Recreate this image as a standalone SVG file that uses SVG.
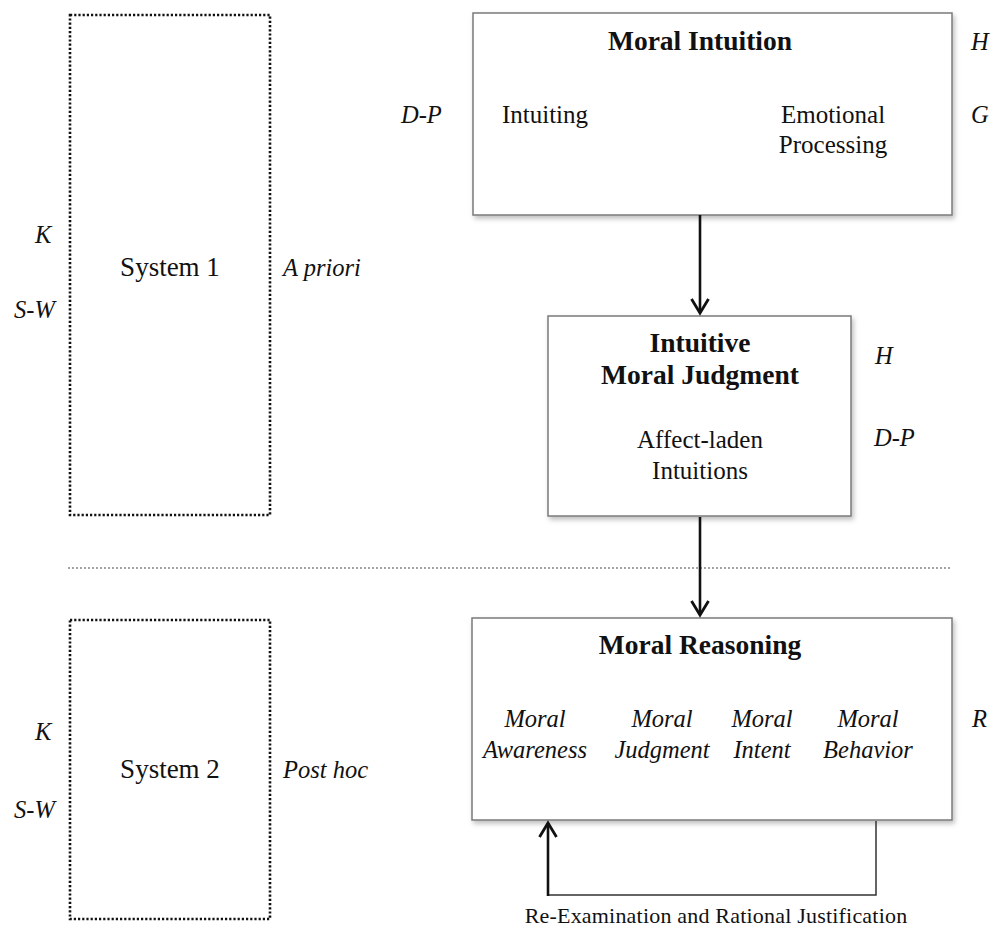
<svg xmlns="http://www.w3.org/2000/svg" width="998" height="929" viewBox="0 0 998 929">
<style>
  text { font-family: "Liberation Serif", "Times New Roman", serif; fill: #111; }
  .title { font-size: 27.5px; font-weight: bold; text-anchor: middle; }
  .body { font-size: 25px; text-anchor: middle; }
  .ital { font-size: 24.5px; font-style: italic; }
  .itc { font-size: 24.5px; font-style: italic; text-anchor: middle; }
  .sys { font-size: 27px; text-anchor: middle; }
  .box { fill: #fff; stroke: #7a7a7a; stroke-width: 1.5; filter: url(#shadow); }
  .dot { fill: none; stroke: #111; stroke-width: 2.6; stroke-dasharray: 2.2 2; }
  .arrow { fill: none; stroke: #111; stroke-width: 2.6; }
  .thin { fill: none; stroke: #333; stroke-width: 1.5; }
</style>
<defs>
  <filter id="shadow" x="-5%" y="-5%" width="115%" height="120%">
    <feDropShadow dx="2" dy="3" stdDeviation="2.5" flood-color="#000" flood-opacity="0.25"/>
  </filter>
  <marker id="chev" markerUnits="userSpaceOnUse" markerWidth="24" markerHeight="24" viewBox="-18 -12 24 24" refX="0" refY="0" orient="auto">
    <path d="M-14,-8.5 L0,0 L-14,8.5" fill="none" stroke="#111" stroke-width="2.8"/>
  </marker>
</defs>

<rect width="998" height="929" fill="#fff"/>

<!-- separator -->
<line x1="68" y1="568" x2="952" y2="568" stroke="#888" stroke-width="1.5" stroke-dasharray="2 2"/>

<g id="system1">
  <rect class="dot" x="70" y="15" width="200" height="500"/>
  <text class="sys" x="170" y="276">System 1</text>
  <text class="ital" x="35" y="243">K</text>
  <text class="ital" x="14" y="318">S-W</text>
  <text class="ital" x="283" y="276">A priori</text>
</g>

<g id="system2">
  <rect class="dot" x="70" y="620" width="200" height="299"/>
  <text class="sys" x="170" y="778">System 2</text>
  <text class="ital" x="35" y="740">K</text>
  <text class="ital" x="14" y="818">S-W</text>
  <text class="ital" x="283" y="778">Post hoc</text>
</g>

<g id="moral-intuition">
  <rect class="box" x="473" y="13" width="479" height="202"/>
  <text class="title" x="700" y="50">Moral Intuition</text>
  <text class="body" x="545" y="123">Intuiting</text>
  <text class="body" x="833" y="123">Emotional</text>
  <text class="body" x="833" y="153">Processing</text>
  <text class="ital" x="971" y="50">H</text>
  <text class="ital" x="971" y="123">G</text>
  <text class="ital" x="401" y="123">D-P</text>
</g>

<g id="intuitive-judgment">
  <rect class="box" x="548" y="316" width="303" height="200"/>
  <text class="title" x="700" y="352">Intuitive</text>
  <text class="title" x="700" y="384">Moral Judgment</text>
  <text class="body" x="700" y="448">Affect-laden</text>
  <text class="body" x="700" y="479">Intuitions</text>
  <text class="ital" x="875" y="364">H</text>
  <text class="ital" x="874" y="446">D-P</text>
</g>

<g id="moral-reasoning">
  <rect class="box" x="472" y="618" width="480" height="202"/>
  <text class="title" x="700" y="654">Moral Reasoning</text>
  <text class="itc" x="535" y="727">Moral</text>
  <text class="itc" x="535" y="758">Awareness</text>
  <text class="itc" x="662" y="727">Moral</text>
  <text class="itc" x="662" y="758">Judgment</text>
  <text class="itc" x="762" y="727">Moral</text>
  <text class="itc" x="762" y="758">Intent</text>
  <text class="itc" x="868" y="727">Moral</text>
  <text class="itc" x="868" y="758">Behavior</text>
  <text class="ital" x="972" y="727">R</text>
</g>

<g id="connectors">
  <line class="arrow" x1="700" y1="215" x2="700" y2="313" marker-end="url(#chev)"/>
  <line class="arrow" x1="700" y1="517" x2="700" y2="615" marker-end="url(#chev)"/>
  <path class="thin" d="M876,821 V895 H548"/>
  <line class="arrow" x1="548" y1="896" x2="548" y2="823" marker-end="url(#chev)"/>
  <text x="716" y="923" style="font-size:22px; text-anchor:middle; letter-spacing:0.2px">Re-Examination and Rational Justification</text>
</g>
</svg>
